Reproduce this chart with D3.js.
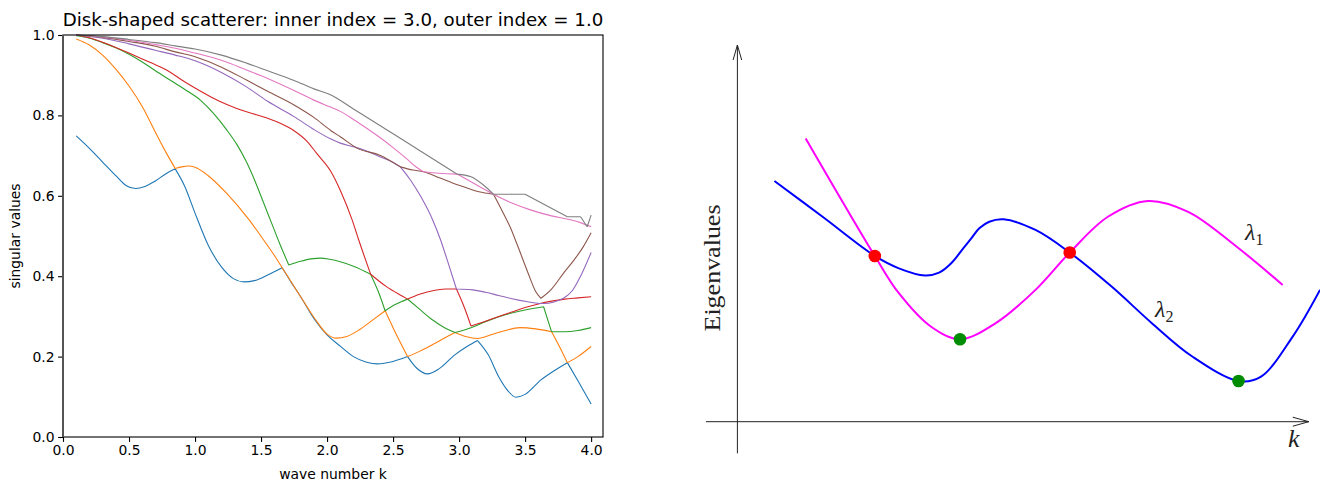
<!DOCTYPE html>
<html>
<head>
<meta charset="utf-8">
<script src="https://cdn.jsdelivr.net/npm/d3@7"></script>
<style>
  body { margin: 0; background: #fff; }
  svg { display: block; }
</style>
</head>
<body>
<svg id="chart" width="1320" height="483"></svg>
<script>
// ---------- Left panel: singular values vs wave number ----------
const titleText = "Disk-shaped scatterer: inner index = 3.0, outer index = 1.0";
const xTicks = [0, 0.5, 1.0, 1.5, 2.0, 2.5, 3.0, 3.5, 4.0];
const yTicks = [0, 0.2, 0.4, 0.6, 0.8, 1.0];

// [k, singular value] samples for each mode
const sv0 = [[0.10,0.749],[0.20,0.718],[0.30,0.684],[0.40,0.650],[0.48,0.625],[0.55,0.618],[0.62,0.623],[0.70,0.637],[0.78,0.655],[0.85,0.667],[0.92,0.625],[1.00,0.557],[1.10,0.477],[1.20,0.423],[1.29,0.394],[1.37,0.386],[1.45,0.389],[1.55,0.403],[1.66,0.421],[1.73,0.384],[1.80,0.349],[1.90,0.295],[2.00,0.254],[2.10,0.226],[2.20,0.200],[2.30,0.186],[2.38,0.182],[2.50,0.188],[2.61,0.200],[2.68,0.171],[2.76,0.157],[2.85,0.170],[2.97,0.205],[3.06,0.225],[3.14,0.240],[3.22,0.205],[3.30,0.150],[3.37,0.115],[3.43,0.099],[3.50,0.106],[3.62,0.142],[3.72,0.165],[3.82,0.185],[3.90,0.140],[4.00,0.082]];
const sv1 = [[0.10,0.990],[0.20,0.975],[0.30,0.950],[0.40,0.915],[0.50,0.873],[0.60,0.822],[0.70,0.758],[0.78,0.708],[0.85,0.668],[0.90,0.672],[0.95,0.674],[1.00,0.671],[1.10,0.650],[1.24,0.606],[1.41,0.540],[1.52,0.490],[1.60,0.452],[1.66,0.421],[1.73,0.385],[1.80,0.349],[1.90,0.298],[2.00,0.256],[2.07,0.246],[2.15,0.250],[2.25,0.268],[2.35,0.292],[2.44,0.314],[2.52,0.258],[2.61,0.200],[2.70,0.213],[2.80,0.230],[2.90,0.248],[2.97,0.260],[3.05,0.250],[3.14,0.245],[3.25,0.255],[3.35,0.265],[3.46,0.272],[3.58,0.269],[3.70,0.262],[3.76,0.225],[3.82,0.185],[3.90,0.200],[4.00,0.225]];
const sv2 = [[0.10,0.998],[0.20,0.992],[0.30,0.981],[0.40,0.968],[0.50,0.952],[0.60,0.933],[0.70,0.911],[0.81,0.888],[0.92,0.865],[1.04,0.838],[1.14,0.805],[1.24,0.764],[1.32,0.726],[1.39,0.684],[1.46,0.632],[1.52,0.582],[1.58,0.532],[1.64,0.482],[1.71,0.428],[1.80,0.437],[1.88,0.443],[1.95,0.445],[2.02,0.442],[2.10,0.436],[2.20,0.425],[2.33,0.405],[2.39,0.360],[2.44,0.314],[2.52,0.330],[2.61,0.343],[2.70,0.318],[2.80,0.291],[2.90,0.270],[2.97,0.260],[3.09,0.272],[3.20,0.287],[3.35,0.304],[3.50,0.316],[3.64,0.324],[3.70,0.262],[3.80,0.262],[3.90,0.265],[4.00,0.272]];
const sv3 = [[0.10,1.000],[0.20,0.993],[0.30,0.982],[0.40,0.969],[0.50,0.955],[0.60,0.940],[0.70,0.926],[0.80,0.910],[0.90,0.888],[1.00,0.868],[1.12,0.846],[1.25,0.826],[1.39,0.809],[1.55,0.793],[1.65,0.780],[1.75,0.762],[1.85,0.735],[1.92,0.706],[2.03,0.660],[2.10,0.614],[2.19,0.540],[2.24,0.490],[2.33,0.405],[2.45,0.374],[2.55,0.354],[2.61,0.343],[2.70,0.355],[2.80,0.364],[2.90,0.368],[2.98,0.368],[3.04,0.322],[3.09,0.276],[3.20,0.288],[3.30,0.300],[3.40,0.311],[3.50,0.322],[3.60,0.331],[3.70,0.338],[3.80,0.343],[3.90,0.346],[4.00,0.349]];
const sv4 = [[0.10,1.000],[0.30,0.992],[0.50,0.978],[0.70,0.962],[0.85,0.950],[1.00,0.936],[1.20,0.907],[1.39,0.871],[1.55,0.835],[1.75,0.797],[1.90,0.765],[2.03,0.741],[2.10,0.731],[2.20,0.722],[2.28,0.714],[2.40,0.697],[2.50,0.683],[2.555,0.672],[2.63,0.640],[2.71,0.598],[2.80,0.540],[2.86,0.490],[2.92,0.430],[2.98,0.368],[3.10,0.366],[3.20,0.360],[3.30,0.352],[3.40,0.344],[3.51,0.337],[3.64,0.332],[3.72,0.336],[3.79,0.345],[3.86,0.365],[3.92,0.400],[4.00,0.459]];
const sv5 = [[0.10,1.000],[0.30,0.994],[0.50,0.984],[0.70,0.972],[0.85,0.958],[1.00,0.946],[1.20,0.920],[1.39,0.888],[1.55,0.860],[1.75,0.826],[1.90,0.795],[2.03,0.762],[2.10,0.747],[2.23,0.718],[2.40,0.701],[2.555,0.672],[2.65,0.664],[2.73,0.660],[2.85,0.645],[2.95,0.632],[3.03,0.623],[3.15,0.610],[3.26,0.604],[3.33,0.560],[3.39,0.520],[3.45,0.470],[3.52,0.410],[3.58,0.362],[3.62,0.345],[3.70,0.368],[3.79,0.407],[3.87,0.440],[3.94,0.473],[4.00,0.508]];
const sv6 = [[0.10,1.000],[0.30,0.995],[0.50,0.987],[0.70,0.976],[0.85,0.967],[1.00,0.955],[1.20,0.937],[1.39,0.913],[1.55,0.892],[1.75,0.862],[1.90,0.838],[2.03,0.820],[2.10,0.810],[2.20,0.790],[2.30,0.768],[2.40,0.745],[2.50,0.720],[2.60,0.693],[2.67,0.673],[2.73,0.660],[2.85,0.656],[2.985,0.654],[3.10,0.633],[3.18,0.618],[3.26,0.604],[3.40,0.582],[3.54,0.565],[3.70,0.550],[3.85,0.540],[3.93,0.532],[4.00,0.523]];
const sv7 = [[0.10,1.000],[0.30,0.996],[0.50,0.989],[0.70,0.981],[0.85,0.973],[1.00,0.965],[1.20,0.950],[1.39,0.930],[1.55,0.911],[1.75,0.887],[1.90,0.866],[2.03,0.851],[2.20,0.816],[2.40,0.775],[2.60,0.734],[2.80,0.692],[2.985,0.654],[3.086,0.648],[3.18,0.628],[3.26,0.604],[3.50,0.604],[3.82,0.548],[3.92,0.548],[3.97,0.523],[4.00,0.552]];
const modes = [sv0, sv1, sv2, sv3, sv4, sv5, sv6, sv7];
// k values where a curve changes direction abruptly (mode swaps)
const modeKinks = [
  [0.85, 1.66, 2.61, 3.14, 3.82],
  [0.85, 2.44, 2.61, 2.97, 3.70, 3.82],
  [1.71, 2.33, 2.44, 2.61, 2.97, 3.64, 3.70],
  [2.33, 2.61, 2.98, 3.09],
  [2.555, 2.98],
  [2.555, 3.26, 3.62],
  [2.73, 2.985],
  [2.985, 3.26, 3.50, 3.82, 3.92, 3.97]
];
const modeColors = ["#1f77b4","#ff7f0e","#2ca02c","#d62728","#9467bd","#8c564b","#e377c2","#7f7f7f"];

// ---------- Right panel: eigenvalue sketch ----------
const lambda1K = [1.195,2.405,2.826,3.39,3.896,4.515,5.217,5.816,6.484,7.186,7.89,8.733,9.543];
const lambda1E = [7.52,4.40,3.41,2.52,2.19,2.61,3.50,4.49,5.44,5.86,5.57,4.65,3.63];
const lambda2K = [0.648,1.491,2.405,2.826,3.283,3.530,3.742,3.952,4.093,4.233,4.408,4.655,5.217,5.816,6.554,7.258,7.961,8.77,9.157,9.718,10.196];
const lambda2E = [6.39,5.44,4.40,4.07,3.88,3.955,4.205,4.603,4.869,5.134,5.309,5.373,5.09,4.49,3.58,2.61,1.73,1.08,1.19,2.26,3.50];
const crossingK = [2.405, 5.816];
const crossingE = [4.40, 4.49];
const minimumK = [3.896, 8.77];
const minimumE = [2.19, 1.08];

const svg = d3.select("#chart");
const sans = "'DejaVu Sans', sans-serif";
const serif = "'Liberation Serif', 'DejaVu Serif', serif";

// ---- left panel ----
const x = d3.scaleLinear().domain([0, 4.09]).range([63, 603]);
const y = d3.scaleLinear().domain([0, 1]).range([437, 35]);

const left = svg.append("g");
const clipId = "plotclip";
left.append("clipPath").attr("id", clipId)
  .append("rect").attr("x", x(0)).attr("y", y(1) - 1)
  .attr("width", x(4.09) - x(0)).attr("height", y(0) - y(1) + 2);

// break a series into smooth pieces at its kinks
function pieces(series, kinks) {
  const out = [];
  let cur = [];
  series.forEach(p => {
    cur.push(p);
    if (kinks.includes(p[0])) { out.push(cur); cur = [p]; }
  });
  if (cur.length > 1) out.push(cur);
  return out;
}

const line = d3.line().x(d => x(d[0])).y(d => y(d[1])).curve(d3.curveMonotoneX);
const plot = left.append("g").attr("clip-path", `url(#${clipId})`);
modes.forEach((series, i) => {
  const segs = pieces(series, modeKinks[i]);
  plot.append("path")
    .attr("d", segs.map(s => line(s)).join(""))
    .attr("fill", "none")
    .attr("stroke", modeColors[i])
    .attr("stroke-width", 1.1)
    .attr("stroke-linejoin", "round");
});

const xAxis = d3.axisBottom(x).tickValues(xTicks).tickFormat(d3.format(".1f"))
  .tickSize(4.9).tickPadding(3.5).tickSizeOuter(0);
const yAxis = d3.axisLeft(y).tickValues(yTicks).tickFormat(d3.format(".1f"))
  .tickSize(4.9).tickPadding(3.5).tickSizeOuter(0);

const gx = left.append("g").attr("transform", `translate(0,${y(0)})`).call(xAxis);
const gy = left.append("g").attr("transform", `translate(${x(0)},0)`).call(yAxis);
[gx, gy].forEach(g => {
  g.select(".domain").remove();
  g.selectAll("line").attr("stroke", "#000").attr("stroke-width", 1.1);
  g.selectAll("text").attr("font-family", sans).attr("font-size", 13.9).attr("fill", "#000");
});

// frame
left.append("rect")
  .attr("x", x(0)).attr("y", y(1))
  .attr("width", x(4.09) - x(0)).attr("height", y(0) - y(1))
  .attr("fill", "none").attr("stroke", "#000").attr("stroke-width", 1.1);
left.append("line")
  .attr("x1", x(0)).attr("x2", x(0)).attr("y1", y(0)).attr("y2", y(1))
  .attr("stroke", "#555").attr("stroke-width", 2);

left.append("text").attr("x", (x(0) + x(4.09)) / 2).attr("y", 26)
  .attr("text-anchor", "middle").attr("font-family", sans).attr("font-size", 18.2)
  .text(titleText);
left.append("text").attr("x", (x(0) + x(4.09)) / 2).attr("y", 479)
  .attr("text-anchor", "middle").attr("font-family", sans).attr("font-size", 13.9)
  .text("wave number k");
left.append("text")
  .attr("transform", `translate(20,${(y(0) + y(1)) / 2}) rotate(-90)`)
  .attr("text-anchor", "middle").attr("font-family", sans).attr("font-size", 13.9)
  .text("singular values");

// ---- right panel ----
const rx = d3.scaleLinear().domain([0, 10]).range([737.4, 1308.8]);
const ry = d3.scaleLinear().domain([0, 10]).range([421.7, 45]);
const right = svg.append("g");

const axisColor = "#222";
// vertical axis with open arrowhead
right.append("line").attr("x1", rx(0)).attr("x2", rx(0)).attr("y1", ry(-0.84)).attr("y2", ry(10))
  .attr("stroke", axisColor).attr("stroke-width", 1);
right.append("path")
  .attr("d", `M${rx(0) - 4.3},${ry(10) + 15} L${rx(0)},${ry(10)} L${rx(0) + 4.3},${ry(10) + 15}`)
  .attr("fill", "none").attr("stroke", axisColor).attr("stroke-width", 1);
// horizontal axis with open arrowhead
right.append("line").attr("x1", rx(-0.55)).attr("x2", rx(10)).attr("y1", ry(0)).attr("y2", ry(0))
  .attr("stroke", axisColor).attr("stroke-width", 1);
right.append("path")
  .attr("d", `M${rx(10) - 16},${ry(0) - 4.5} L${rx(10)},${ry(0)} L${rx(10) - 16},${ry(0) + 4.5}`)
  .attr("fill", "none").attr("stroke", axisColor).attr("stroke-width", 1);

const eLine = d3.line().x(d => rx(d[0])).y(d => ry(d[1])).curve(d3.curveCatmullRom.alpha(0.5));
right.append("path").attr("d", eLine(d3.zip(lambda1K, lambda1E)))
  .attr("fill", "none").attr("stroke", "#ff00ff").attr("stroke-width", 2);
right.append("path").attr("d", eLine(d3.zip(lambda2K, lambda2E)))
  .attr("fill", "none").attr("stroke", "#0000ff").attr("stroke-width", 2);

right.selectAll("circle.cross").data(d3.zip(crossingK, crossingE)).join("circle")
  .attr("class", "cross")
  .attr("cx", d => rx(d[0])).attr("cy", d => ry(d[1])).attr("r", 6.3).attr("fill", "#ff0000");
right.selectAll("circle.minimum").data(d3.zip(minimumK, minimumE)).join("circle")
  .attr("class", "minimum")
  .attr("cx", d => rx(d[0])).attr("cy", d => ry(d[1])).attr("r", 6.3).attr("fill", "#008c00");

right.append("text")
  .attr("transform", `translate(720,268) rotate(-90)`)
  .attr("text-anchor", "middle").attr("font-family", serif).attr("font-size", 23)
  .attr("fill", "#222").attr("textLength", 127).attr("lengthAdjust", "spacingAndGlyphs")
  .text("Eigenvalues");

function lambdaLabel(px, py, sub) {
  const t = right.append("text").attr("x", px).attr("y", py)
    .attr("font-family", serif).attr("font-size", 24).attr("fill", "#222");
  t.append("tspan").attr("font-style", "italic").text("λ");
  t.append("tspan").attr("font-size", 16).attr("dy", 5).text(sub);
}
lambdaLabel(1245, 240, "1");
lambdaLabel(1155, 317, "2");

right.append("text").attr("x", 1288).attr("y", 447)
  .attr("font-family", serif).attr("font-style", "italic").attr("font-size", 26).attr("fill", "#222")
  .text("k");
</script>
</body>
</html>
